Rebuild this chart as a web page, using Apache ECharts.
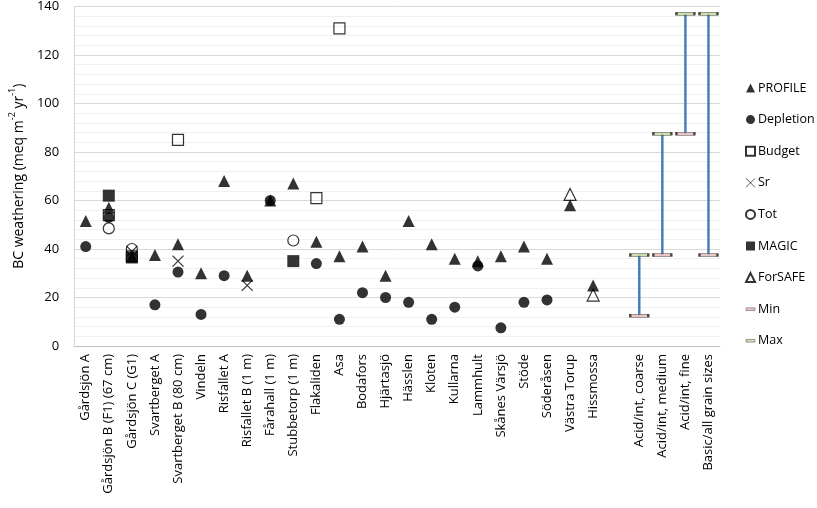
<!DOCTYPE html>
<html>
<head>
<meta charset="utf-8">
<script src="https://cdn.jsdelivr.net/npm/echarts@6/dist/echarts.min.js"></script>
<style>html,body{margin:0;padding:0;background:#fff}#c{width:817px;height:508px}</style>
</head>
<body>
<div id="c"></div>
<script>
const categories = ['Gårdsjön A','Gårdsjön B (F1) (67 cm)','Gårdsjön C (G1)','Svartberget A','Svartberget B (80 cm)','Vindeln','Risfallet A','Risfallet B (1 m)','Fårahall (1 m)','Stubbetorp (1 m)','Flakaliden','Asa','Bodafors','Hjärtasjö','Hässlen','Kloten','Kullarna','Lammhult','Skånes Värsjö','Stöde','Söderåsen','Västra Torup','Hissmossa','','Acid/int, coarse','Acid/int, medium','Acid/int, fine','Basic/all grain sizes'];
const profile   = [51.5,57,37,37.5,42,30,68,29,60,67,43,37,41,29,51.5,42,36,35,37,41,36,58,25,null,null,null,null,null];
const depletion = [41,53,null,17,30.5,13,29,null,60,null,34,11,22,20,18,11,16,33,7.5,18,19,null,null,null,null,null,null,null];
const budget    = [null,54,37,null,85,null,null,null,null,null,61,131,null,null,null,null,null,null,null,null,null,null,null,null,null,null,null,null];
const sr        = [null,null,39,null,35,null,null,25,null,null,null,null,null,null,null,null,null,null,null,null,null,null,null,null,null,null,null,null];
const tot       = [null,48.5,40,null,null,null,null,null,null,43.5,null,null,null,null,null,null,null,null,null,null,null,null,null,null,null,null,null,null];
const magic     = [null,62,36.5,null,null,null,null,null,null,35,null,null,null,null,null,null,null,null,null,null,null,null,null,null,null,null,null,null];
const forsafe   = [null,null,null,null,null,null,null,null,null,null,null,null,null,null,null,null,null,null,null,null,null,62.5,21,null,null,null,null,null];
const minVals   = [null,null,null,null,null,null,null,null,null,null,null,null,null,null,null,null,null,null,null,null,null,null,null,null,12.5,37.5,87.5,37.5];
const maxVals   = [null,null,null,null,null,null,null,null,null,null,null,null,null,null,null,null,null,null,null,null,null,null,null,null,37.5,87.5,137,137];

const hiLo = [];
minVals.forEach((v,i)=>{ if(v!=null && maxVals[i]!=null) hiLo.push([i, v, maxVals[i]]); });

const FONT = 'Open Sans';
const crossPath = 'path://M0,0L10,10M10,0L0,10';
const dashIcon = 'path://M0,0M0,3.5L10,3.5L10,6.5L0,6.5ZM10,10';

function sc(name, data, symbol, size, style, z){
  return {name, type:'scatter', data, symbol, symbolSize:size, itemStyle:style, z: z||2, emphasis:{disabled:true}};
}

const chart = echarts.init(document.getElementById('c'), null, {renderer:'canvas'});
chart.setOption({
  animation:false,
  textStyle:{fontFamily:FONT},
  grid:{left:62, right:97, top:5, bottom:162},
  legend:{
    orient:'vertical', left:740, top:75, itemWidth:9, itemHeight:9, itemGap:15.6,
    textStyle:{fontFamily:FONT, fontSize:12.5, color:'#000', lineHeight:16, padding:[0,0,0,-2]},
    data:[
      {name:'PROFILE'},{name:'Depletion'},{name:'Budget'},
      {name:'Sr', icon:crossPath, itemStyle:{borderWidth:0.8}},
      {name:'Tot'},{name:'MAGIC'},{name:'ForSAFE'},
      {name:'Min', icon:dashIcon, itemStyle:{borderWidth:0.5}},
      {name:'Max', icon:dashIcon, itemStyle:{borderWidth:0.5}}
    ]
  },
  xAxis:{
    type:'category', data:categories,
    axisLine:{lineStyle:{color:'#BFBFBF', width:1}},
    axisTick:{show:false},
    axisLabel:{rotate:90, interval:0, fontFamily:FONT, fontSize:13, color:'#000', margin:8},
    splitLine:{show:false}
  },
  yAxis:{
    type:'value', min:0, max:140, interval:20,
    name:'{a|BC weathering (meq m}{s|-2}{a| yr}{s|-1}{a|)}',
    nameLocation:'middle', nameRotate:90, nameGap:42,
    nameTextStyle:{rich:{
      a:{fontFamily:FONT, fontSize:14, color:'#000', lineHeight:18, verticalAlign:'bottom'},
      s:{fontFamily:FONT, fontSize:9, color:'#000', lineHeight:18, verticalAlign:'top'}
    }},
    axisLine:{show:true, lineStyle:{color:'#D9D9D9'}},
    axisTick:{show:false},
    axisLabel:{fontFamily:FONT, fontSize:13, color:'#000', margin:15},
    splitLine:{lineStyle:{color:'#D9D9D9', width:1}},
    minorTick:{show:false, splitNumber:5},
    minorSplitLine:{show:true, lineStyle:{color:'#F0F0F0', width:1}}
  },
  series:[
    {type:'custom', name:'hilo', data:hiLo, z:1, silent:true,
     renderItem:function(params, api){
       const x = api.value(0);
       const p1 = api.coord([x, api.value(1)]);
       const p2 = api.coord([x, api.value(2)]);
       return {type:'line', shape:{x1:p1[0], y1:p1[1], x2:p2[0], y2:p2[1]}, style:{stroke:'#4A7EBB', lineWidth:2.5}};
     }},
    sc('PROFILE', profile, 'triangle', 12, {color:'#000'}),
    sc('Depletion', depletion, 'circle', 11, {color:'#000'}),
    sc('Budget', budget, 'rect', 11, {color:'rgba(0,0,0,0)', borderColor:'#000', borderWidth:1.2}),
    sc('Sr', sr, crossPath, 11, {color:'rgba(0,0,0,0)', borderColor:'#000', borderWidth:1.2}),
    sc('Tot', tot, 'circle', 11, {color:'rgba(0,0,0,0)', borderColor:'#000', borderWidth:1.2}),
    sc('MAGIC', magic, 'rect', 12, {color:'#000'}),
    sc('ForSAFE', forsafe, 'triangle', 12, {color:'rgba(0,0,0,0)', borderColor:'#000', borderWidth:1.2}),
    sc('Min', minVals, 'rect', [18,3], {color:'#E6B9B8', borderColor:'#222', borderWidth:1}, 3),
    sc('Max', maxVals, 'rect', [18,3], {color:'#C3D69B', borderColor:'#222', borderWidth:1}, 3)
  ]
});
</script>
</body>
</html>
